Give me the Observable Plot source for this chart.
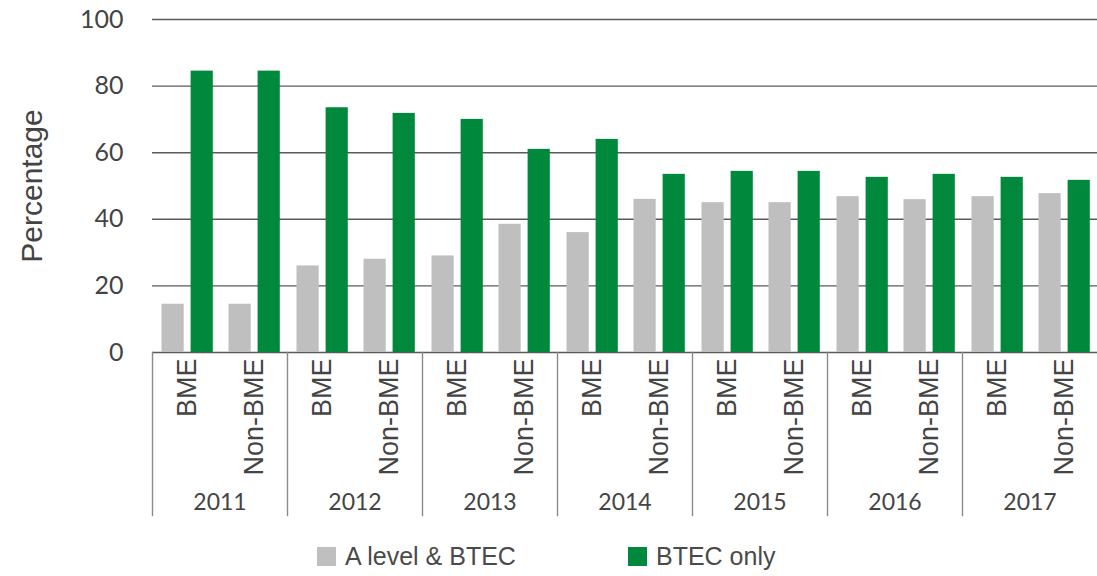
<!DOCTYPE html>
<html><head><meta charset="utf-8">
<script src="https://cdn.jsdelivr.net/npm/d3@7"></script>
<script src="https://cdn.jsdelivr.net/npm/@observablehq/plot@0.6"></script>
<style>
body{margin:0;background:#fff;font-family:"Liberation Sans",Arial,sans-serif;color:#444;}
#legend{position:relative;height:51px;}
.item{position:absolute;top:17px;display:flex;align-items:center;font-size:25px;color:#4a4a4a;}
.sw{width:19px;height:19px;margin-right:9px;}
</style></head><body>
<div id="chart"></div>
<div id="legend"></div>
<script>
const years = ["2011","2012","2013","2014","2015","2016","2017"];
const groups = ["BME","Non-BME"];
const seriesNames = ["A level & BTEC","BTEC only"];
const aLevelBtec = [14.5,14.5, 26,28, 29,38.5, 36,46, 45,45, 46.8,45.9, 46.8,47.7];
const btecOnly   = [84.5,84.5, 73.5,71.8, 70,61, 64,53.5, 54.4,54.4, 52.6,53.5, 52.6,51.7];
const yTicks = [0,20,40,60,80,100];
const yLabel = "Percentage";
const colors = ["#bfbfbf","#00893d"];

const rows = [];
years.forEach((yr,i)=>groups.forEach((g,j)=>{
  const k=i*2+j;
  rows.push({year:yr, group:g, series:seriesNames[0], value:aLevelBtec[k]});
  rows.push({year:yr, group:g, series:seriesNames[1], value:btecOnly[k]});
}));

const chart = Plot.plot({
  width:1097, height:525, marginTop:19, marginLeft:152, marginRight:0, marginBottom:173,
  style:{fontFamily:"'Liberation Sans', Arial, sans-serif", color:"#444", background:"transparent", overflow:"visible"},
  fx:{domain:years, padding:0, axis:null},
  x:{domain:groups, padding:0, axis:null},
  y:{domain:[0,100], axis:null},
  marks:[
    Plot.ruleY(yTicks,{stroke:"#5a5a5a", strokeWidth:1.4}),
    Plot.frame({anchor:"left", stroke:"#8a8a8a", strokeWidth:1.4, insetTop:333, insetBottom:-163}),
    Plot.barY(rows.filter(d=>d.series===seriesNames[0]),{fx:"year",x:"group",y:"value",fill:colors[0],insetLeft:8.5,insetRight:36.3}),
    Plot.barY(rows.filter(d=>d.series===seriesNames[1]),{fx:"year",x:"group",y:"value",fill:colors[1],insetLeft:37.6,insetRight:7.2}),
    Plot.axisY({ticks:yTicks, tickSize:0, tickPadding:29, fontSize:25, fontFamily:"Lato", label:null}),
    Plot.text([yLabel], {fx: () => years[0], frameAnchor:"left", textAnchor:"middle", dx:-120, rotate:-90, text:d=>d, fontSize:30, fill:"#444"}),
    Plot.axisX({tickRotate:-90, tickSize:0, tickPadding:6, fontSize:27, label:null}),
    Plot.axisFx({anchor:"bottom", tickSize:0, tickPadding:141, fontSize:23, fontFamily:"Lato", label:null})
  ]
});
document.getElementById("chart").appendChild(chart);

const legend = document.getElementById("legend");
const legendLeft = [317, 628];
seriesNames.forEach((s,i)=>{
  const it = document.createElement("div");
  it.className = "item";
  it.style.left = legendLeft[i]+"px";
  const sw = document.createElement("span");
  sw.className="sw"; sw.style.background = colors[i];
  const t = document.createElement("span");
  t.textContent = s;
  it.appendChild(sw); it.appendChild(t);
  legend.appendChild(it);
});
</script>
</body></html>
